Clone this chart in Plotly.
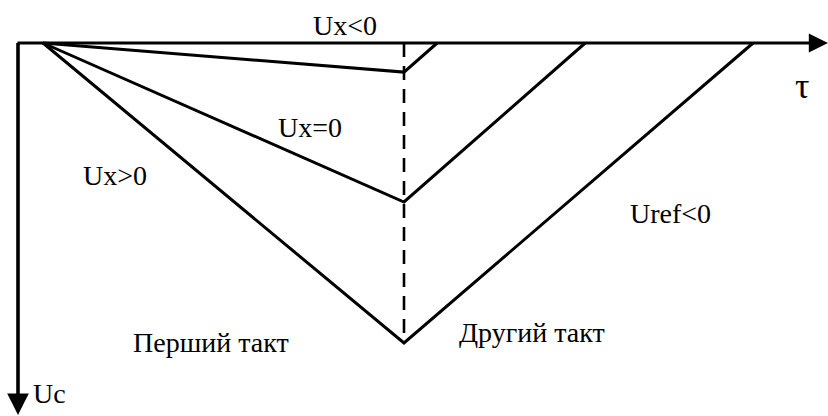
import plotly.graph_objects as go

# ---- data (τ in units of the first tact, Uc normalised to the largest peak) ----
tact_one = 1.0
series_names = ["Ux<0", "Ux=0", "Ux>0"]
uc_peak = [0.097, 0.53, 1.0]          # integrator output at end of first tact
tau_end = [1.092, 1.502, 1.967]       # time when the output returns to zero

# ---- layout helpers ----
PX0, PY0 = 43, 43          # pixel position of the origin
SX, SY = 361.0, 300.0      # pixels per unit
W, H = 828, 416

def tx(px):
    return (px - PX0) / SX

def ty(py):
    return (py - PY0) / SY

FONT = "Liberation Serif"

fig = go.Figure()

# integration / de-integration lines
for name, pk, te in zip(series_names, uc_peak, tau_end):
    fig.add_trace(go.Scatter(
        x=[0, tact_one, te], y=[0, pk, 0], mode="lines",
        line=dict(color="black", width=3), name=name, showlegend=False,
        hoverinfo="skip"))

# dashed boundary between tacts
fig.add_trace(go.Scatter(
    x=[tact_one, tact_one], y=[0, max(uc_peak)], mode="lines",
    line=dict(color="black", width=2.6, dash="14px,9px"),
    showlegend=False, hoverinfo="skip"))

annotations = []
# horizontal axis (τ) with arrow
annotations.append(dict(x=tx(828), y=0, ax=tx(16), ay=0, xref="x", yref="y",
                        axref="x", ayref="y", showarrow=True, arrowhead=2,
                        arrowsize=1.2, arrowwidth=3.2, arrowcolor="black",
                        standoff=0, text=""))
# vertical axis (Uc) with arrow downwards
annotations.append(dict(x=tx(18), y=ty(415), ax=tx(18), ay=ty(41.5), xref="x",
                        yref="y", axref="x", ayref="y", showarrow=True,
                        arrowhead=2, arrowsize=1.2, arrowwidth=3.6,
                        arrowcolor="black", standoff=0, text=""))

labels = [
    ("Ux<0", 345, 25, 28),
    ("Ux=0", 310, 127, 28),
    ("Ux>0", 115, 175, 28),
    ("Uref<0", 670, 213, 28),
    ("τ", 802, 86, 36),
    ("Uc", 49, 393, 28),
    ("Перший такт", 211, 342, 28),
    ("Другий такт", 532, 332, 28),
]
for txt, px, py, fs in labels:
    annotations.append(dict(x=tx(px), y=ty(py), xref="x", yref="y", text=txt,
                            showarrow=False, xanchor="center", yanchor="middle",
                            font=dict(family=FONT, size=fs, color="black")))

fig.update_layout(
    width=W, height=H,
    margin=dict(l=0, r=0, t=0, b=0),
    paper_bgcolor="white", plot_bgcolor="white",
    xaxis=dict(range=[tx(0), tx(W)], visible=False, showgrid=False,
               zeroline=False),
    yaxis=dict(range=[ty(H), ty(0)], visible=False, showgrid=False,
               zeroline=False),
    annotations=annotations,
    showlegend=False,
)

fig.write_html("out.html", config={"displayModeBar": False},
               post_script="document.body.style.margin='0';"
                           "document.body.style.overflow='hidden';")
